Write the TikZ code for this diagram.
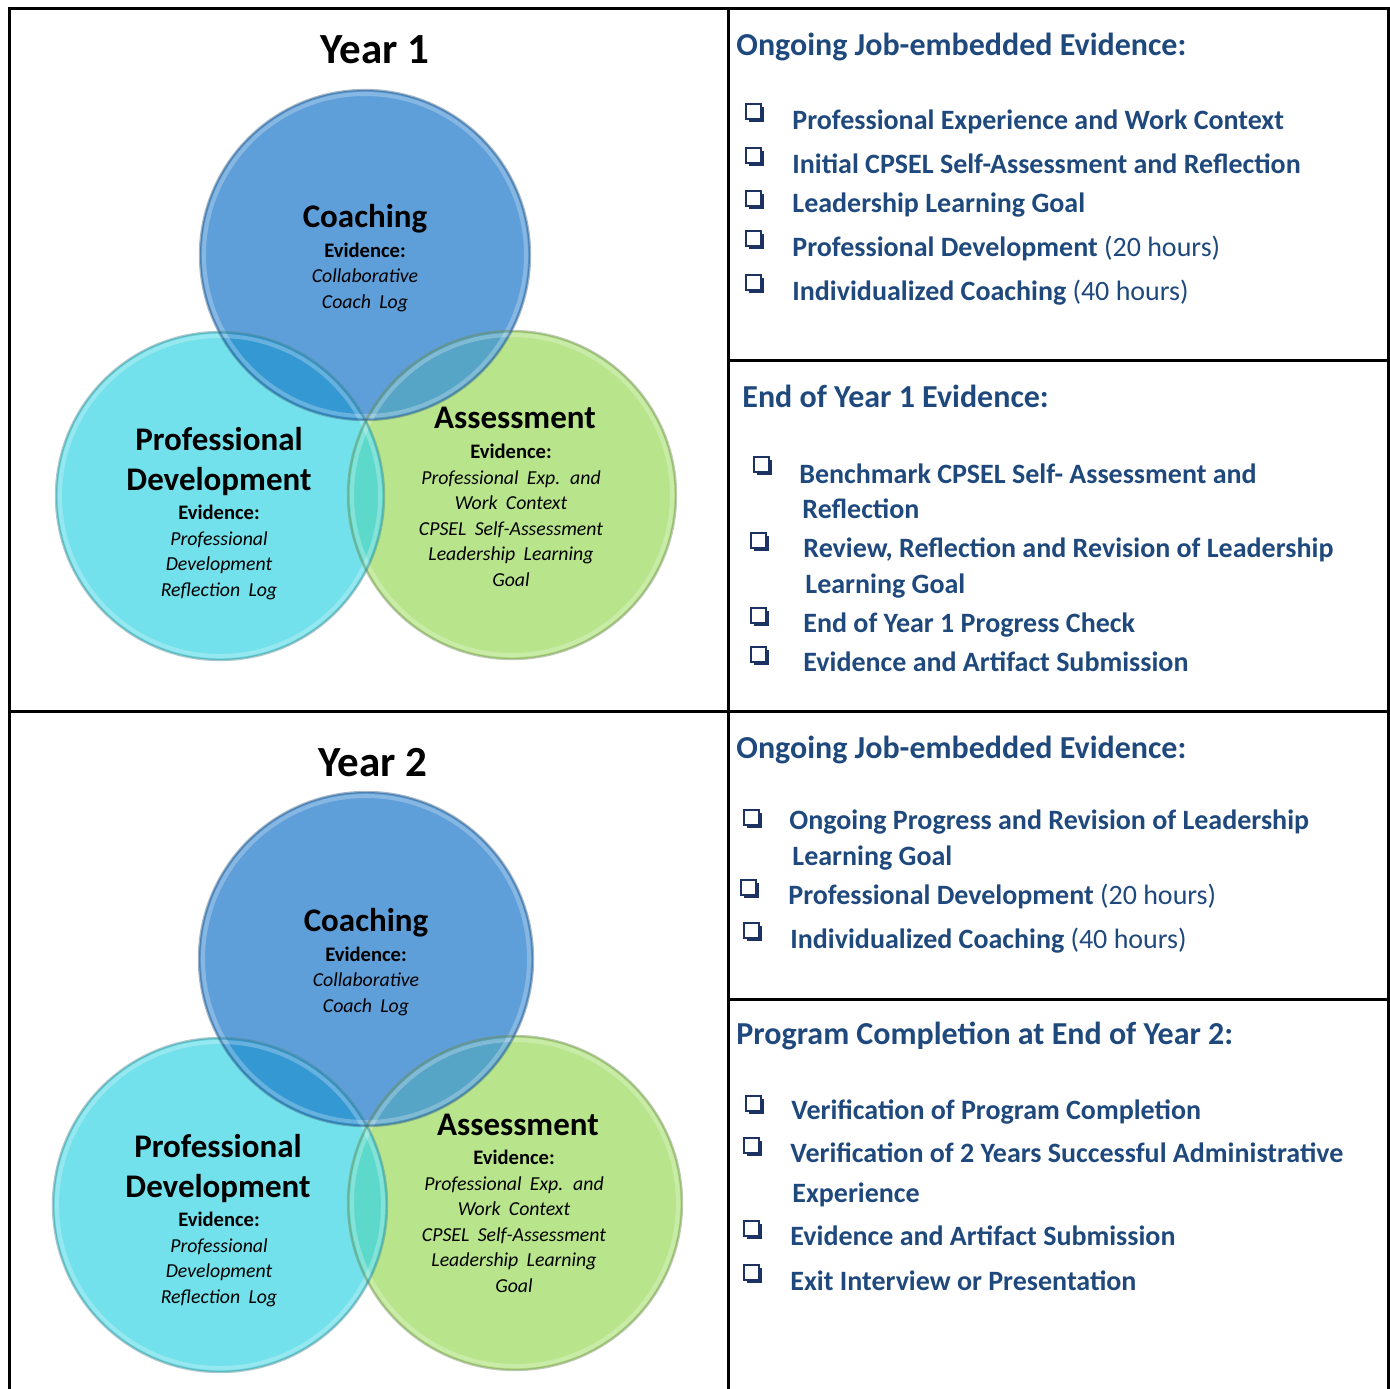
\documentclass[tikz,border=0pt]{standalone}
\usepackage{fontspec}
\setmainfont{Carlito}
\usetikzlibrary{shadows}
\definecolor{headblue}{RGB}{31,73,125}
\definecolor{boxblue}{RGB}{28,50,98}
\definecolor{coachblue}{RGB}{94,158,217}
\definecolor{pdcyan}{RGB}{114,225,235}
\definecolor{assessgreen}{RGB}{184,229,139}
\definecolor{coachpd}{RGB}{52,152,211}
\definecolor{coachassess}{RGB}{86,164,198}
\definecolor{pdassess}{RGB}{92,217,203}
\newcommand\evidfont{\fontsize{9.9}{12.75}\selectfont\itshape\spaceskip=0.42em\relax}
\newcommand\evidhead{\upshape\bfseries\fontsize{10.3}{12.75}\selectfont Evidence:}

\begin{document}
\begin{tikzpicture}[x=0.5pt,y=-0.5pt]
    % Setup the styles
    \tikzset{frame line/.style={line width=1.5pt, line join=miter},
             rim/.style={line width=1.2pt, draw opacity=0.45},
             glow/.style={line width=2pt, draw=white, draw opacity=0.25},
             year title/.style={font=\fontsize{21.5}{26}\selectfont\bfseries,
                                anchor=base, inner sep=0},
             area title/.style={font=\fontsize{16.5}{20}\selectfont\bfseries,
                                anchor=base, align=center, inner sep=0},
             evid list/.style={font=\evidfont,
                               anchor=base, align=center, inner sep=0},
             sect head/.style={font=\fontsize{16}{19}\selectfont\bfseries,
                               text=headblue, anchor=base west, inner sep=0},
             item/.style={font=\fontsize{14}{18}\selectfont\bfseries,
                          text=headblue, anchor=base west, align=left, inner sep=0},
             chkbox/.style={draw=boxblue, fill=white, line width=1pt,
                            minimum size=7.5pt, inner sep=0,
                            drop shadow={shadow xshift=1.5pt, shadow yshift=-1.5pt,
                                         opacity=1, fill=boxblue}}}
    \useasboundingbox (0,0) rectangle (1390,1388);

    % Year 1 circles
    \coordinate (coach1)  at (365,255);
    \coordinate (pd1)     at (220,496);
    \coordinate (assess1) at (512,495);
    \fill[assessgreen] (assess1) circle[radius=164];
    \fill[pdcyan] (pd1) circle[radius=164];
    \fill[coachblue] (coach1) circle[radius=165];
    \begin{scope}
        \clip (pd1) circle[radius=164];
        \fill[pdassess] (assess1) circle[radius=164];
    \end{scope}
    \begin{scope}
        \clip (coach1) circle[radius=165];
        \fill[coachpd] (pd1) circle[radius=164];
        \fill[coachassess] (assess1) circle[radius=164];
    \end{scope}
    \draw[glow] (assess1) circle[radius=160];
    \draw[glow] (pd1) circle[radius=160];
    \draw[glow] (coach1) circle[radius=161];
    \draw[rim, draw=assessgreen!60!black] (assess1) circle[radius=164];
    \draw[rim, draw=pdcyan!60!black] (pd1) circle[radius=164];
    \draw[rim, draw=coachblue!60!black] (coach1) circle[radius=165];

    % Year 2 circles
    \coordinate (coach2)  at (366,959);
    \coordinate (pd2)     at (220,1205);
    \coordinate (assess2) at (515,1203);
    \fill[assessgreen] (assess2) circle[radius=167];
    \fill[pdcyan] (pd2) circle[radius=167];
    \fill[coachblue] (coach2) circle[radius=167];
    \begin{scope}
        \clip (pd2) circle[radius=167];
        \fill[pdassess] (assess2) circle[radius=167];
    \end{scope}
    \begin{scope}
        \clip (coach2) circle[radius=167];
        \fill[coachpd] (pd2) circle[radius=167];
        \fill[coachassess] (assess2) circle[radius=167];
    \end{scope}
    \draw[glow] (assess2) circle[radius=163];
    \draw[glow] (pd2) circle[radius=163];
    \draw[glow] (coach2) circle[radius=163];
    \draw[rim, draw=assessgreen!60!black] (assess2) circle[radius=167];
    \draw[rim, draw=pdcyan!60!black] (pd2) circle[radius=167];
    \draw[rim, draw=coachblue!60!black] (coach2) circle[radius=167];

    % Year 1 labels (multi-line nodes sit on their last baseline)
    \node[year title] at (375,63) (year1) {Year 1};
    \node[area title] at (365,227) (coach1 name) {Coaching};
    \node[evid list]  at (365,308) (coach1 evid)
        {{\evidhead}\\Collaborative\\Coach Log};
    \node[area title] at (219,490) (pd1 name) {Professional\\Development};
    \node[evid list]  at (219,596) (pd1 evid)
        {{\evidhead}\\Professional\\Development\\Reflection Log};
    \node[area title] at (515,428) (assess1 name) {Assessment};
    \node[evid list]  at (511,586) (assess1 evid)
        {{\evidhead}\\Professional Exp. and\\Work Context\\CPSEL Self-Assessment\\Leadership Learning\\Goal};

    % Year 2 labels
    \node[year title] at (373,776) (year2) {Year 2};
    \node[area title] at (366,931) (coach2 name) {Coaching};
    \node[evid list]  at (366,1012) (coach2 evid)
        {{\evidhead}\\Collaborative\\Coach Log};
    \node[area title] at (218,1197) (pd2 name) {Professional\\Development};
    \node[evid list]  at (219,1303) (pd2 evid)
        {{\evidhead}\\Professional\\Development\\Reflection Log};
    \node[area title] at (518,1135) (assess2 name) {Assessment};
    \node[evid list]  at (514,1292) (assess2 evid)
        {{\evidhead}\\Professional Exp. and\\Work Context\\CPSEL Self-Assessment\\Leadership Learning\\Goal};

    % Ongoing evidence, year 1
    \node[sect head] at (736,55) (ongoing1) {Ongoing Job-embedded Evidence:};
    \node[chkbox] at (753,111) (chk1a) {};
    \node[item] at (792,129) (item1a) {Professional Experience and Work Context};
    \node[chkbox] at (753,155) (chk1b) {};
    \node[item] at (792,173) (item1b) {Initial CPSEL Self-Assessment and Reflection};
    \node[chkbox] at (753,198) (chk1c) {};
    \node[item] at (792,212) (item1c) {Leadership Learning Goal};
    \node[chkbox] at (753,238) (chk1d) {};
    \node[item] at (792,256) (item1d) {Professional Development \mdseries(20 hours)};
    \node[chkbox] at (753,282) (chk1e) {};
    \node[item] at (792,300) (item1e) {Individualized Coaching \mdseries(40 hours)};

    % End of year 1
    \node[sect head] at (742,407) (endyear1) {End of Year 1 Evidence:};
    \node[chkbox] at (761,464) (chk2a) {};
    \node[item] at (799,518) (item2a) {Benchmark CPSEL Self- Assessment and\\[-0.5pt]\hspace{1.5pt}Reflection};
    \node[chkbox] at (758,540) (chk2b) {};
    \node[item] at (803,593) (item2b) {Review, Reflection and Revision of Leadership\\\hspace{1pt}Learning Goal};
    \node[chkbox] at (758,615) (chk2c) {};
    \node[item] at (803,632) (item2c) {End of Year 1 Progress Check};
    \node[chkbox] at (758,654) (chk2d) {};
    \node[item] at (803,671) (item2d) {Evidence and Artifact Submission};

    % Ongoing evidence, year 2
    \node[sect head] at (736,758) (ongoing2) {Ongoing Job-embedded Evidence:};
    \node[chkbox] at (751,817) (chk3a) {};
    \node[item] at (789,865) (item3a) {Ongoing Progress and Revision of Leadership\\\hspace{1.5pt}Learning Goal};
    \node[chkbox] at (748,887) (chk3b) {};
    \node[item] at (788,904) (item3b) {Professional Development \mdseries(20 hours)};
    \node[chkbox] at (751,930) (chk3c) {};
    \node[item] at (790,948) (item3c) {Individualized Coaching \mdseries(40 hours)};

    % Program completion
    \node[sect head] at (736,1044) (complete) {Program Completion at End of Year 2:};
    \node[chkbox] at (753,1103) (chk4a) {};
    \node[item] at (791,1119) (item4a) {Verification of Program Completion};
    \node[chkbox] at (751,1145) (chk4b) {};
    \node[item] at (790,1202) (item4b) {Verification of 2 Years Successful Administrative\\[2pt]\hspace{1pt}Experience};
    \node[chkbox] at (751,1228) (chk4c) {};
    \node[item] at (790,1245) (item4c) {Evidence and Artifact Submission};
    \node[chkbox] at (751,1272) (chk4d) {};
    \node[item] at (790,1290) (item4d) {Exit Interview or Presentation};

    % Table rules
    \draw[frame line] (9,1390) -- (9,8) -- (1388.5,8) -- (1388.5,1390);
    \draw[frame line] (728,8) -- (728,1390);
    \draw[frame line] (9,711) -- (1388.5,711);
    \draw[frame line] (728,360) -- (1388.5,360);
    \draw[frame line] (728,999) -- (1388.5,999);
\end{tikzpicture}
\end{document}
